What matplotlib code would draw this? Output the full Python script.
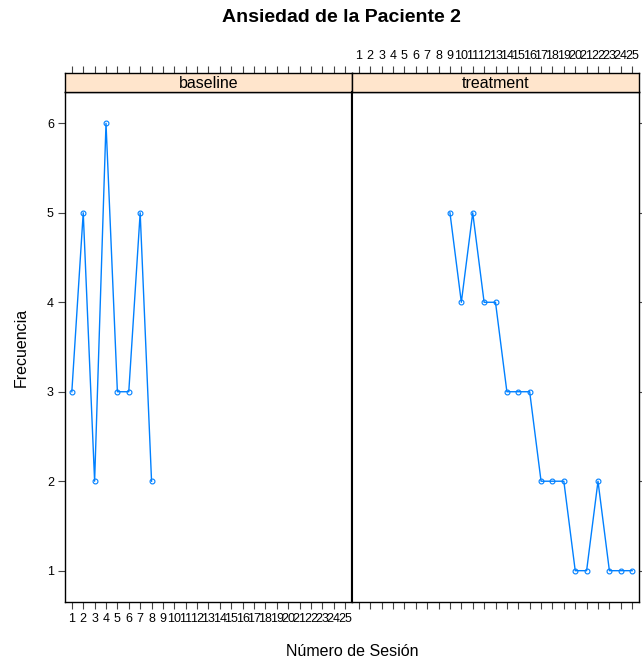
import matplotlib
matplotlib.use("Agg")
import matplotlib.pyplot as plt

plt.rcParams["font.family"] = ["Liberation Sans", "DejaVu Sans"]

# data
sessions = list(range(1, 26))
baseline_sessions = [1, 2, 3, 4, 5, 6, 7, 8]
baseline_freq = [3, 5, 2, 6, 3, 3, 5, 2]
treatment_sessions = list(range(9, 26))
treatment_freq = [5, 4, 5, 4, 4, 3, 3, 3, 2, 2, 2, 1, 1, 2, 1, 1, 1]
panel_names = ["baseline", "treatment"]
y_ticks = [1, 2, 3, 4, 5, 6]

LINE = "#0080ff"
STRIP = "#ffe5cc"
TICKC = "#444444"

W, H = 642, 664
fig = plt.figure(figsize=(W / 100, H / 100), dpi=100)


def fx(px):
    return px / W


def fy(py):
    return 1 - py / H


x0, xmid, x1 = 65, 352, 639
ptop, pbot = 92, 602
stop = 73

xlim = (0.4, 25.6)
ylim = (0.65, 6.35)

series = [(baseline_sessions, baseline_freq), (treatment_sessions, treatment_freq)]
edges = [(x0, xmid), (xmid, x1)]

for i, (name, (xs, ys), (a, b)) in enumerate(zip(panel_names, series, edges)):
    ax = fig.add_axes([fx(a), fy(pbot), fx(b) - fx(a), fy(ptop) - fy(pbot)])
    ax.plot(xs, ys, color=LINE, lw=1.0, marker="o", ms=3.5,
            mfc="none", mec=LINE, mew=0.8)
    ax.set_xlim(*xlim)
    ax.set_ylim(*ylim)
    ax.set_xticks(sessions)
    ax.set_yticks(y_ticks)
    for s in ax.spines.values():
        s.set_color("black")
        s.set_linewidth(1.0)
    ax.tick_params(axis="both", direction="out", length=5, width=0.8,
                   color=TICKC, labelsize=9, pad=3)
    if i == 0:
        ax.tick_params(axis="x", bottom=True, labelbottom=True)
        ax.tick_params(axis="y", left=True, labelleft=True, right=False)
        ax.set_xticklabels([str(s) for s in sessions])
        ax.spines["right"].set_linewidth(1.5)
    else:
        ax.tick_params(axis="x", bottom=True, labelbottom=False)
        ax.tick_params(axis="y", left=False, labelleft=False,
                       right=True, labelright=False)
        ax.spines["left"].set_linewidth(1.5)

    sax = fig.add_axes([fx(a), fy(ptop), fx(b) - fx(a), fy(stop) - fy(ptop)])
    sax.set_facecolor(STRIP)
    sax.set_xlim(*xlim)
    sax.set_ylim(0, 1)
    sax.set_yticks([])
    sax.set_xticks(sessions)
    sax.tick_params(axis="x", top=True, bottom=False, labelbottom=False,
                    labeltop=(i == 1), direction="out", length=5, width=0.8,
                    color=TICKC, labelsize=9, pad=3)
    if i == 1:
        sax.set_xticklabels([str(s) for s in sessions])
    for s in sax.spines.values():
        s.set_color("black")
        s.set_linewidth(1.0)
    sax.text(0.5, 0.45, name, transform=sax.transAxes, ha="center",
             va="center", fontsize=11.5)

fig.text(fx(341), fy(18), "Ansiedad de la Paciente 2", ha="center",
         va="center", fontsize=14, fontweight="bold")
fig.text(fx(352), fy(651), "Número de Sesión", ha="center", va="center",
         fontsize=11.5)
fig.text(fx(21), fy(347), "Frecuencia", ha="center", va="center",
         fontsize=11.5, rotation=90)

fig.savefig("out.png", dpi=100)
